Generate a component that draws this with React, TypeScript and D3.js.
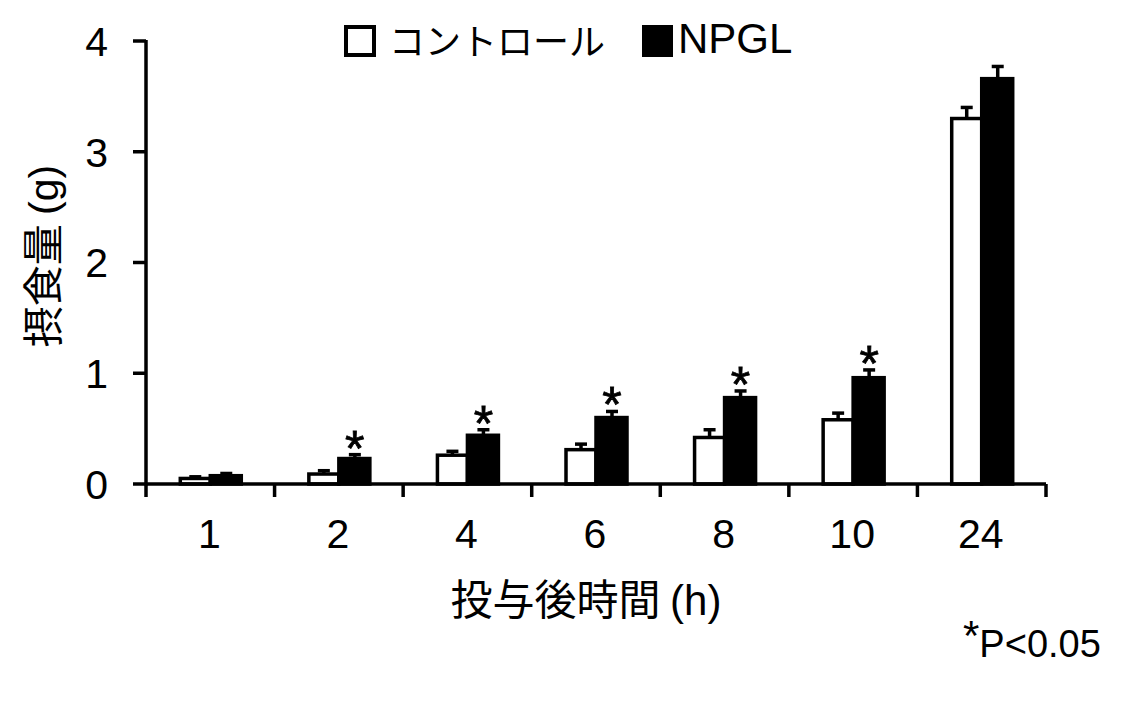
import React from "react";
import * as d3 from "d3";

const categories = ["1", "2", "4", "6", "8", "10", "24"];
const controlValues = [0.05, 0.09, 0.26, 0.31, 0.42, 0.58, 3.3];
const controlErrors = [0.015, 0.03, 0.035, 0.05, 0.07, 0.06, 0.1];
const npglValues = [0.075, 0.23, 0.44, 0.6, 0.78, 0.96, 3.66];
const npglErrors = [0.02, 0.035, 0.05, 0.055, 0.06, 0.07, 0.11];
const significant = [false, true, true, true, true, true, false];
const yTicks = [0, 1, 2, 3, 4];

const W = 1135;
const H = 701;
const left = 146;
const right = 1046;
const top = 41;
const bottom = 484;
const FONT = "'Liberation Sans', Arial, sans-serif";
const CJK = "'Noto Sans CJK JP', 'Liberation Sans', sans-serif";

export default function App() {
  const x = d3.scaleBand<string>().domain(categories).range([left, right]).padding(0);
  const y = d3.scaleLinear().domain([0, 4]).range([bottom, top]);
  const bw = 30;
  const sw = 3.5;

  const boundaries = categories.map((c) => x(c)!).concat([right]);

  return (
    <svg
      width={W}
      height={H}
      style={{ position: "absolute", left: 0, top: 0, background: "#fff" }}
    >
      {/* bars */}
      {categories.map((c, i) => {
        const cx = x(c)! + x.bandwidth() / 2;
        const cTop = y(controlValues[i]);
        const nTop = y(npglValues[i]);
        const cErr = y(controlValues[i] + controlErrors[i]);
        const nErr = y(npglValues[i] + npglErrors[i]);
        const cMid = cx - bw / 2;
        const nMid = cx + bw / 2 + 1;
        return (
          <g key={c}>
            <line x1={cMid} x2={cMid} y1={cTop} y2={cErr} stroke="#000" strokeWidth={3.5} />
            <line x1={cMid - 6} x2={cMid + 6} y1={cErr} y2={cErr} stroke="#000" strokeWidth={3.5} />
            <line x1={nMid} x2={nMid} y1={nTop} y2={nErr} stroke="#000" strokeWidth={3.5} />
            <line x1={nMid - 6} x2={nMid + 6} y1={nErr} y2={nErr} stroke="#000" strokeWidth={3.5} />
            <rect
              x={cx - bw}
              y={cTop}
              width={bw}
              height={bottom - cTop}
              fill="#fff"
              stroke="#000"
              strokeWidth={sw}
            />
            <rect
              x={cx}
              y={nTop}
              width={bw + 1}
              height={bottom - nTop}
              fill="#000"
              stroke="#000"
              strokeWidth={sw}
            />
            {significant[i] && (
              <text
                x={nMid}
                y={nErr + 11}
                textAnchor="middle"
                fontFamily={FONT}
                fontSize={50}
                stroke="#000"
                strokeWidth={0.8}
              >
                *
              </text>
            )}
          </g>
        );
      })}

      {/* y axis */}
      <line x1={left} x2={left} y1={top - 1} y2={bottom + 1.5} stroke="#000" strokeWidth={3.5} />
      {yTicks.map((t) => (
        <g key={t}>
          <line x1={left - 13} x2={left} y1={y(t)} y2={y(t)} stroke="#000" strokeWidth={3.5} />
          <text
            x={108}
            y={y(t)}
            dy="0.36em"
            textAnchor="end"
            fontFamily={FONT}
            fontSize={41}
          >
            {t}
          </text>
        </g>
      ))}

      {/* x axis */}
      <line x1={left} x2={right} y1={bottom} y2={bottom} stroke="#000" strokeWidth={3.5} />
      {boundaries.map((b, i) => (
        <line key={i} x1={b} x2={b} y1={bottom} y2={bottom + 13} stroke="#000" strokeWidth={3.5} />
      ))}
      {categories.map((c) => (
        <text
          key={c}
          x={x(c)! + x.bandwidth() / 2 - 1}
          y={548}
          textAnchor="middle"
          fontFamily={FONT}
          fontSize={41}
        >
          {c}
        </text>
      ))}

      {/* axis titles */}
      <text x={586} y={615} textAnchor="middle" fontFamily={CJK} fontSize={42}>
        投与後時間 <tspan fontFamily={FONT}>(h)</tspan>
      </text>
      <text
        transform="translate(58,256) rotate(-90)"
        textAnchor="middle"
        fontFamily={CJK}
        fontSize={41}
      >
        摂食量 <tspan fontFamily={FONT}>(g)</tspan>
      </text>

      {/* legend */}
      <rect x={346} y={27} width={28} height={28} fill="#fff" stroke="#000" strokeWidth={4} />
      <text x={389} y={55} fontFamily={CJK} fontSize={36}>
        コントロール
      </text>
      <rect x={642} y={25} width={31} height={32} fill="#000" />
      <text x={678} y={53} fontFamily={FONT} fontSize={42}>
        NPGL
      </text>

      {/* significance note */}
      <text x={963} y={657} fontFamily={FONT} fontSize={38}>
        <tspan fontSize={42} dy={-7}>*</tspan>
        <tspan dy={7}>P&lt;0.05</tspan>
      </text>
    </svg>
  );
}
